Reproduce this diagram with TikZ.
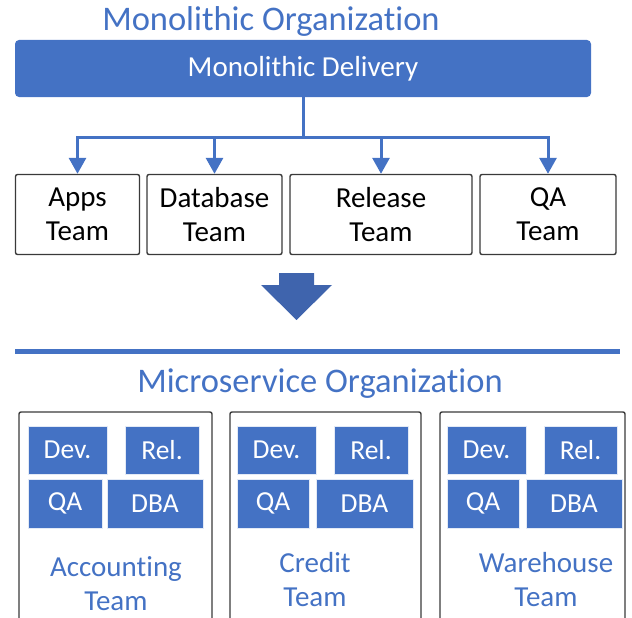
\documentclass[tikz,border=0pt]{standalone}
\usepackage{fontspec}
\setmainfont[Ligatures={NoCommon,NoContextual},RawFeature={-calt;-dlig}]{Carlito}
\usetikzlibrary{arrows.meta}
\definecolor{officeblue}{HTML}{4472C4}
\definecolor{arrowblue}{HTML}{3F64AD}
\definecolor{framegray}{HTML}{3A3A3A}

\tikzset{
  heading/.style={text=officeblue, font=\fontsize{34.5}{40}\selectfont, inner sep=0},
  bluebar/.style={fill=officeblue, draw=none, rounded corners=4pt, text=white,
                  font=\fontsize{29}{34}\selectfont, inner sep=0},
  oldteam/.style={draw=framegray, line width=1.4pt, rounded corners=2pt, fill=white,
                  align=center, font=\fontsize{29}{34}\selectfont, inner sep=0,
                  minimum height=80pt},
  squad/.style={draw=framegray, line width=1.4pt, rounded corners=2pt, inner sep=0,
                minimum height=228pt},
  role/.style={fill=officeblue, draw=white!85!officeblue, line width=0.6pt,
               text=white, inner sep=0, font=\fontsize{27.5}{32}\selectfont},
  squadname/.style={text=officeblue, align=center, inner sep=0,
                    font=\fontsize{29}{34}\selectfont},
  feed/.style={draw=officeblue, line width=3pt,
               -{Triangle[width=17pt,length=16pt]}},
}

\begin{document}
\begin{tikzpicture}[x=1pt,y=-1pt]
\useasboundingbox (0,0) rectangle (632,618);

% ---- monolithic organization ----
\node[heading] (monotitle) at (271,21) {Monolithic Organizat\kern0pt ion};
\node[bluebar, minimum width=576pt, minimum height=57pt] (delivery) at (303,68.5) {Monolithic Delivery};

\node[oldteam, minimum width=124pt] (apps) at (77.5,214.5) {Apps\\Team};
\node[oldteam, minimum width=135pt] (dbteam) at (214.5,214.5) {Database\\Team};
\node[oldteam, minimum width=182pt] (relteam) at (381,214.5) {Release\\Team};
\node[oldteam, minimum width=136pt] (qateam) at (548,214.5) {QA\\Team};

\coordinate (bus) at (303,137);
\draw[officeblue, line width=3pt] (delivery.south) -- (bus);
\draw[feed] (bus) -| (apps.north);
\draw[feed] (bus) -| (dbteam.north);
\draw[feed] (bus) -| (relteam.north);
\draw[feed] (bus) -| (qateam.north);

% ---- transition arrow and divider ----
\fill[arrowblue] (279,273) -- (314,273) -- (314,285) -- (332,285) -- (296.5,320)
  -- (261,285) -- (279,285) -- cycle;
\draw[officeblue, line width=5.5pt] (15,351.5) -- (620,351.5);

% ---- microservice organization ----
\node[heading] (microtitle) at (320,384) {Microservice Organizat\kern0pt ion};

\node[squad, minimum width=193pt] (acct) at (115.5,526) {};
\node[squad, minimum width=191pt] (credit) at (325.5,526) {};
\node[squad, minimum width=185pt] (wareh) at (532.5,526) {};

% accounting squad roles
\node[role, minimum width=79pt, minimum height=48pt] (acctdev) at (67.5,450) {Dev.};
\node[role, minimum width=74pt, minimum height=48pt] (acctrel) at (162,450) {Rel.};
\node[role, minimum width=74pt, minimum height=49pt] (acctqa) at (65,503.5) {QA};
\node[role, minimum width=96pt, minimum height=49pt] (acctdba) at (155,503.5) {DBA};
\node[squadname] (acctname) at (116,584) {Accounting\\Team};

% credit squad roles
\node[role, minimum width=79pt, minimum height=48pt] (creddev) at (276.5,450) {Dev.};
\node[role, minimum width=74pt, minimum height=48pt] (credrel) at (371,450) {Rel.};
\node[role, minimum width=72pt, minimum height=49pt] (credqa) at (273,503.5) {QA};
\node[role, minimum width=97pt, minimum height=49pt] (creddba) at (364.5,503.5) {DBA};
\node[squadname] (credname) at (315,580) {Credit\\Team};

% warehouse squad roles
\node[role, minimum width=79pt, minimum height=48pt] (waredev) at (486.5,450) {Dev.};
\node[role, minimum width=73pt, minimum height=48pt] (warerel) at (580.5,450) {Rel.};
\node[role, minimum width=72pt, minimum height=49pt] (wareqa) at (483,503.5) {QA};
\node[role, minimum width=96pt, minimum height=49pt] (waredba) at (574,503.5) {DBA};
\node[squadname] (warename) at (546,580) {Warehouse\\Team};
\end{tikzpicture}
\end{document}
